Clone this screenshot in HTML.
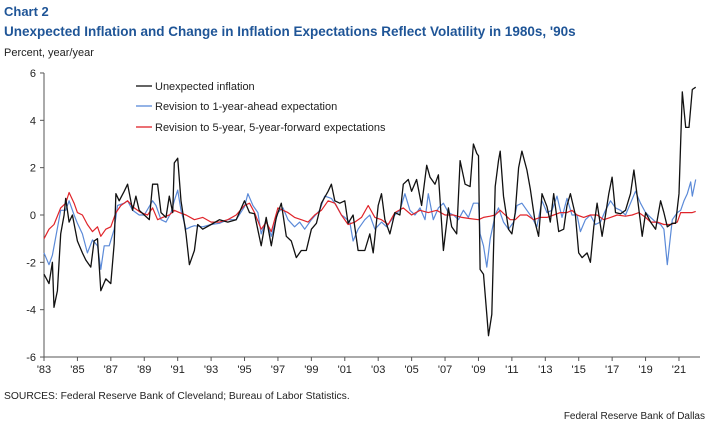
<!DOCTYPE html>
<html><head><meta charset="utf-8"><style>
body{margin:0;background:#fff;width:711px;height:424px;overflow:hidden;font-family:"Liberation Sans",Arial,sans-serif}
svg text{font-family:"Liberation Sans",Arial,sans-serif}
</style></head><body>
<svg id="chart" width="711" height="424" xmlns="http://www.w3.org/2000/svg">
<text x="4" y="16" font-size="13" font-weight="bold" fill="#1f5597">Chart 2</text>
<text x="4" y="36" font-size="13.5" font-weight="bold" fill="#1f5597">Unexpected Inflation and Change in Inflation Expectations Reflect Volatility in 1980s, '90s</text>
<text x="4" y="56" font-size="11" fill="#222">Percent, year/year</text>
<g id="axes"></g>
<g id="series"></g>
<g>
<line x1="136" y1="86" x2="152" y2="86" stroke="#111" stroke-width="1.3"/>
<text x="155" y="90" font-size="11" fill="#222">Unexpected inflation</text>
<line x1="136" y1="106" x2="152" y2="106" stroke="#5b8ad8" stroke-width="1.3"/>
<text x="155" y="110" font-size="11" fill="#222">Revision to 1-year-ahead expectation</text>
<line x1="136" y1="127" x2="152" y2="127" stroke="#e0242a" stroke-width="1.3"/>
<text x="155" y="131" font-size="11" fill="#222">Revision to 5-year, 5-year-forward expectations</text>
</g>
<text x="4" y="399" font-size="10.3" fill="#222">SOURCES: Federal Reserve Bank of Cleveland; Bureau of Labor Statistics.</text>
<text x="705" y="419" font-size="10" fill="#222" text-anchor="end">Federal Reserve Bank of Dallas</text>
</svg>
<script>
const yTicks=[6,4,2,0,-2,-4,-6];
const xTickYears=[1983,1985,1987,1989,1991,1993,1995,1997,1999,2001,2003,2005,2007,2009,2011,2013,2015,2017,2019,2021];
const xTickLabels=["'83","'85","'87","'89","'91","'93","'95","'97","'99","'01","'03","'05","'07","'09","'11","'13","'15","'17","'19","'21"];
const blackDates=[1983.0,1983.3,1983.5,1983.6,1983.8,1984.0,1984.2,1984.3,1984.5,1984.7,1985.0,1985.3,1985.5,1985.8,1986.0,1986.2,1986.4,1986.7,1987.0,1987.2,1987.3,1987.5,1987.8,1988.0,1988.3,1988.5,1988.7,1989.0,1989.3,1989.5,1989.8,1990.0,1990.3,1990.5,1990.7,1990.8,1991.0,1991.2,1991.5,1991.7,1992.0,1992.2,1992.5,1993.0,1993.5,1994.0,1994.5,1995.0,1995.3,1995.6,1996.0,1996.3,1996.6,1996.9,1997.2,1997.5,1997.8,1998.1,1998.4,1998.7,1999.0,1999.3,1999.6,2000.0,2000.2,2000.4,2000.7,2001.0,2001.2,2001.5,2001.8,2002.2,2002.5,2002.7,2003.0,2003.2,2003.4,2003.7,2004.0,2004.3,2004.5,2004.8,2005.0,2005.3,2005.6,2005.9,2006.1,2006.4,2006.6,2006.9,2007.2,2007.4,2007.7,2007.9,2008.2,2008.5,2008.7,2008.9,2009.0,2009.1,2009.3,2009.5,2009.6,2009.8,2010.0,2010.2,2010.3,2010.5,2010.8,2011.0,2011.2,2011.4,2011.6,2011.9,2012.1,2012.4,2012.6,2012.8,2013.1,2013.3,2013.5,2013.8,2014.1,2014.3,2014.5,2014.8,2015.0,2015.2,2015.5,2015.7,2015.9,2016.1,2016.4,2016.6,2016.8,2017.0,2017.2,2017.5,2017.8,2018.1,2018.3,2018.5,2018.8,2019.0,2019.3,2019.6,2019.9,2020.1,2020.3,2020.6,2020.8,2021.0,2021.2,2021.4,2021.6,2021.8,2022.0];
const blackValues=[-2.5,-2.9,-2.0,-3.9,-3.2,-0.8,0.0,0.7,-0.3,0.0,-1.1,-1.6,-1.9,-2.2,-1.1,-1.0,-3.2,-2.7,-2.9,-1.2,0.9,0.6,1.0,1.3,0.2,0.8,0.2,0.0,-0.2,1.3,1.3,0.1,-0.1,0.8,0.1,2.2,2.4,0.6,-0.8,-2.1,-1.5,-0.4,-0.6,-0.4,-0.2,-0.3,-0.2,0.6,0.1,0.05,-1.3,-0.1,-1.3,-0.1,0.5,-0.9,-1.1,-1.8,-1.5,-1.5,-0.6,-0.35,0.5,1.0,1.3,0.6,0.5,0.6,-0.35,0.0,-1.5,-1.5,-0.8,-1.6,0.4,0.9,-0.2,-0.8,0.1,0.0,1.3,1.5,1.0,1.5,0.4,2.1,1.6,1.3,1.7,-1.5,0.3,-0.5,-0.8,2.3,1.3,1.2,3.0,2.6,2.5,-2.3,-2.5,-4.2,-5.1,-4.2,1.2,2.3,2.7,0.8,-0.6,-0.8,0.1,2.0,2.7,1.9,1.1,-0.35,-0.9,0.9,0.35,-0.3,0.9,-0.7,-0.6,0.4,0.9,0.0,-1.6,-1.8,-1.6,-2.0,-0.5,0.5,-0.9,0.0,0.9,1.6,0.1,0.05,0.2,0.9,1.9,0.8,-0.9,0.1,-0.3,-0.6,0.6,0.1,-0.5,-0.35,-0.35,0.9,5.2,3.7,3.7,5.3,5.4];
const blueDates=[1983.0,1983.3,1983.5,1984.0,1984.3,1984.5,1984.8,1985.0,1985.3,1985.6,1985.9,1986.2,1986.4,1986.6,1986.9,1987.2,1987.4,1987.8,1988.0,1988.3,1988.7,1989.0,1989.5,1989.7,1990.0,1990.3,1990.6,1990.8,1991.0,1991.2,1991.5,1991.8,1992.0,1992.5,1993.0,1993.5,1994.0,1994.5,1995.0,1995.2,1995.5,1995.8,1996.0,1996.3,1996.6,1997.0,1997.3,1997.6,1998.0,1998.3,1998.6,1999.0,1999.5,1999.8,2000.2,2000.5,2000.8,2001.0,2001.3,2001.5,2001.8,2002.2,2002.5,2002.8,2003.2,2003.5,2004.0,2004.3,2004.6,2004.9,2005.2,2005.5,2005.8,2006.0,2006.3,2006.6,2006.9,2007.2,2007.5,2007.8,2008.1,2008.4,2008.7,2009.0,2009.1,2009.3,2009.5,2009.7,2010.0,2010.2,2010.5,2010.8,2011.1,2011.3,2011.6,2011.9,2012.2,2012.5,2012.8,2013.1,2013.4,2013.7,2014.0,2014.3,2014.6,2014.9,2015.1,2015.4,2015.7,2016.0,2016.3,2016.6,2016.9,2017.2,2017.5,2017.8,2018.1,2018.4,2018.7,2019.0,2019.3,2019.6,2019.9,2020.1,2020.3,2020.6,2020.9,2021.1,2021.3,2021.5,2021.7,2021.8,2022.0];
const blueValues=[-1.6,-2.1,-1.7,0.2,0.2,0.6,0.0,-0.35,-0.8,-1.6,-1.05,-1.3,-2.3,-1.3,-1.3,-0.6,0.4,0.5,0.6,0.2,0.0,0.0,0.6,0.4,-0.2,-0.3,0.1,0.6,1.05,0.2,-0.6,-0.5,-0.45,-0.5,-0.4,-0.35,-0.2,-0.2,0.35,0.9,0.4,0.1,-0.8,-0.2,-0.9,0.1,0.3,-0.2,-0.5,-0.3,-0.6,-0.2,0.2,0.8,0.7,0.4,0.0,-0.1,-0.3,-1.1,-0.6,-0.2,0.0,-0.6,-0.3,-0.5,0.0,0.2,0.9,0.2,0.0,0.3,-0.2,0.9,-0.2,0.3,0.5,0.1,0.0,-0.2,0.2,-0.1,0.5,0.5,-0.8,-1.3,-2.2,-1.0,0.0,0.3,-0.3,-0.6,-0.3,0.4,0.5,0.2,-0.1,-0.5,0.6,0.1,0.2,0.8,-0.1,0.7,0.0,0.0,-0.7,-0.2,0.0,-0.4,-0.3,0.2,0.6,0.3,0.2,0.0,0.5,1.0,0.5,0.1,-0.1,-0.3,-0.4,-0.6,-2.1,-0.2,0.1,0.2,0.6,0.9,1.4,0.8,1.5];
const redDates=[1983.0,1983.3,1983.6,1984.0,1984.3,1984.5,1984.8,1985.0,1985.3,1985.6,1985.9,1986.2,1986.4,1986.7,1987.0,1987.3,1987.6,1988.0,1988.4,1988.8,1989.2,1989.5,1989.8,1990.1,1990.5,1990.8,1991.1,1991.5,1992.0,1992.5,1993.0,1993.5,1994.0,1994.5,1995.0,1995.3,1995.6,1996.0,1996.3,1996.6,1997.0,1997.3,1997.6,1998.0,1998.4,1998.8,1999.2,1999.6,2000.0,2000.4,2000.8,2001.2,2001.6,2002.0,2002.4,2002.8,2003.2,2003.6,2004.0,2004.5,2005.0,2005.5,2006.0,2006.5,2007.0,2007.5,2008.0,2008.5,2009.0,2009.3,2009.7,2010.0,2010.3,2010.6,2010.9,2011.2,2011.5,2011.9,2012.3,2012.7,2013.1,2013.5,2013.9,2014.3,2014.6,2014.9,2015.3,2015.7,2016.1,2016.5,2016.9,2017.3,2017.8,2018.2,2018.6,2019.0,2019.3,2019.7,2020.1,2020.5,2020.9,2021.1,2021.5,2021.8,2022.0];
const redValues=[-1.0,-0.6,-0.4,0.3,0.5,0.95,0.5,0.1,0.0,-0.4,-0.7,-0.5,-0.9,-0.6,-0.5,0.1,0.4,0.6,0.3,0.1,0.0,0.3,-0.2,-0.1,0.0,0.2,0.1,0.0,-0.2,-0.1,-0.3,-0.3,-0.2,0.0,0.4,0.5,0.1,-0.6,-0.3,-0.7,0.3,0.2,0.1,-0.1,-0.2,-0.3,0.0,0.2,0.6,0.5,0.0,-0.4,-0.3,-0.1,0.4,-0.1,-0.2,-0.4,0.1,0.3,0.0,0.2,0.1,0.2,0.0,0.0,-0.1,-0.15,-0.2,-0.1,-0.05,0.0,0.2,0.0,-0.2,-0.2,0.0,0.0,-0.2,-0.1,-0.1,0.0,0.1,0.1,0.2,0.0,-0.1,0.0,0.0,-0.2,-0.1,0.0,-0.05,0.0,0.1,-0.1,-0.3,-0.3,-0.4,-0.4,-0.3,0.1,0.1,0.1,0.15];

const NS="http://www.w3.org/2000/svg";
const X0=44,Y0=215,PX_YEAR=16.71,PX_UNIT=23.67;
function xScale(yr){return X0+(yr-1983)*PX_YEAR;}
function yScale(v){return Y0-v*PX_UNIT;}
function mk(tag,attrs,parent){const e=document.createElementNS(NS,tag);for(const k in attrs)e.setAttribute(k,attrs[k]);parent.appendChild(e);return e;}
const axes=document.getElementById('axes');
const yAxis=mk('line',{x1:X0,y1:yScale(6),x2:X0,y2:yScale(-6),stroke:'#555','stroke-width':1},axes);


const xAxis=mk('line',{x1:X0,y1:yScale(-6),x2:700,y2:yScale(-6),stroke:'#555','stroke-width':1},axes);


yTicks.forEach(v=>{
  mk('line',{x1:X0-4,y1:yScale(v),x2:X0,y2:yScale(v),stroke:'#555'},axes);
  const t=mk('text',{x:X0-8,y:yScale(v)+4,'font-size':11,fill:'#222','text-anchor':'end'},axes);
  t.textContent=v;
  
  
});
xTickYears.forEach((yr,i)=>{
  mk('line',{x1:xScale(yr),y1:yScale(-6),x2:xScale(yr),y2:yScale(-6)+4,stroke:'#555'},axes);
  const t=mk('text',{x:xScale(yr),y:yScale(-6)+16,'font-size':11,fill:'#222','text-anchor':'middle'},axes);
  t.textContent=xTickLabels[i];
  
  
});
const g=document.getElementById('series');
function drawLine(dates,vals,color,w){
  const d=dates.map((yr,i)=>(i?'L':'M')+xScale(yr).toFixed(1)+','+yScale(vals[i]).toFixed(1)).join(' ');
  return mk('path',{d:d,fill:'none',stroke:color,'stroke-width':w,'stroke-linejoin':'round'},g);
}
const pBlue=drawLine(blueDates,blueValues,'#5b8ad8',1.2);


const pRed=drawLine(redDates,redValues,'#e0242a',1.2);


const pBlack=drawLine(blackDates,blackValues,'#111',1.3);


</script>
</body></html>
